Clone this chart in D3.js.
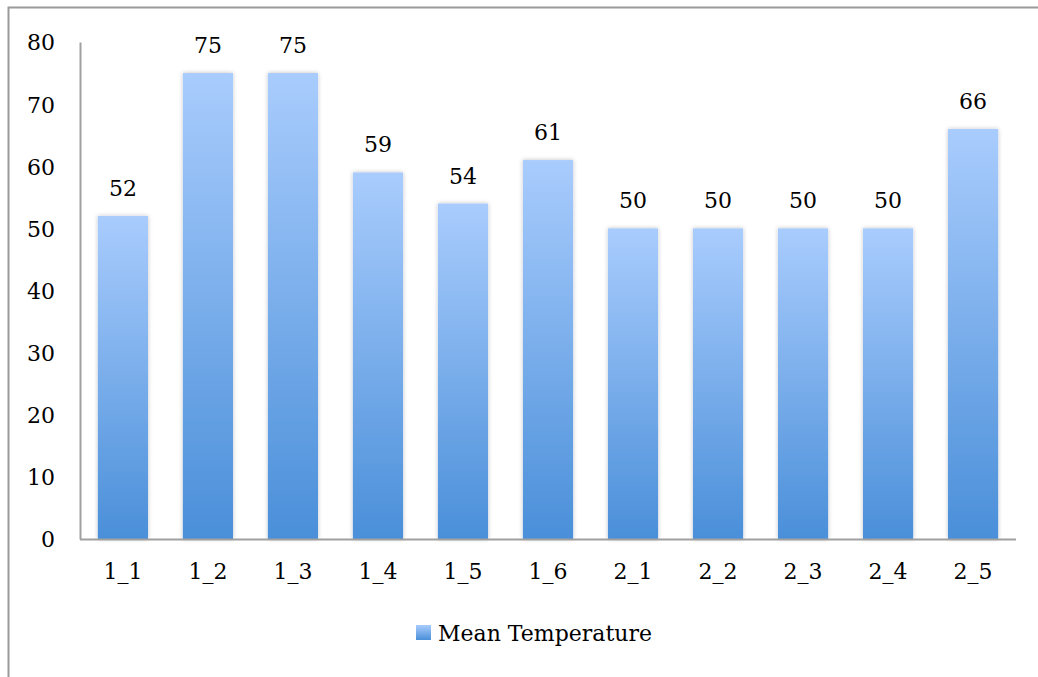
<!DOCTYPE html>
<html>
<head>
<meta charset="utf-8">
<script src="https://cdn.jsdelivr.net/npm/d3@7"></script>
<style>
  html, body { margin: 0; padding: 0; background: #fff; }
  svg { display: block; }
  text { font-family: "DejaVu Serif", "Liberation Serif", serif; fill: #000; }
</style>
</head>
<body>
<svg id="chart" width="1038" height="677"></svg>
<script>
const categories = ["1_1", "1_2", "1_3", "1_4", "1_5", "1_6", "2_1", "2_2", "2_3", "2_4", "2_5"];
const meanTemperature = [52, 75, 75, 59, 54, 61, 50, 50, 50, 50, 66];
const yTicks = [0, 10, 20, 30, 40, 50, 60, 70, 80];
const seriesName = "Mean Temperature";

const fontFamily = "DejaVu Serif, Liberation Serif, serif";
const fontSize = 22;

const svg = d3.select("#chart");
const plot = { left: 80, right: 1016, top: 42, bottom: 539 };

// outer frame (top and left edges visible within the page)
svg.append("path")
  .attr("d", "M8.5,677 L8.5,7.5 L1038,7.5")
  .attr("fill", "none")
  .attr("stroke", "#9a9a9a")
  .attr("stroke-width", 2);

const defs = svg.append("defs");
const grad = defs.append("linearGradient")
  .attr("id", "barFill").attr("x1", 0).attr("y1", 0).attr("x2", 0).attr("y2", 1);
grad.append("stop").attr("offset", "0%").attr("stop-color", "#a9ccfd");
grad.append("stop").attr("offset", "100%").attr("stop-color", "#4a8fd9");

const legGrad = defs.append("linearGradient")
  .attr("id", "legFill").attr("x1", 0).attr("y1", 0).attr("x2", 0).attr("y2", 1);
legGrad.append("stop").attr("offset", "0%").attr("stop-color", "#a9ccfd");
legGrad.append("stop").attr("offset", "100%").attr("stop-color", "#4a8fd9");

const shadow = defs.append("filter").attr("id", "barShadow")
  .attr("x", "-20%").attr("y", "-5%").attr("width", "140%").attr("height", "110%");
shadow.append("feDropShadow")
  .attr("dx", 0).attr("dy", 0).attr("stdDeviation", 2)
  .attr("flood-color", "#000").attr("flood-opacity", 0.25);

const x = d3.scaleBand().domain(categories).range([plot.left, plot.right]).paddingInner(0.41).paddingOuter(0.21);
const y = d3.scaleLinear().domain([0, 80]).range([plot.bottom, plot.top]);

// bars
svg.append("g").selectAll("rect")
  .data(categories)
  .join("rect")
  .attr("x", d => x(d))
  .attr("width", x.bandwidth())
  .attr("y", (d, i) => y(meanTemperature[i]))
  .attr("height", (d, i) => y(0) - y(meanTemperature[i]))
  .attr("fill", "url(#barFill)")
  .attr("filter", "url(#barShadow)");

// value labels
svg.append("g").selectAll("text")
  .data(categories)
  .join("text")
  .attr("x", d => x(d) + x.bandwidth() / 2)
  .attr("y", (d, i) => y(meanTemperature[i]) - 20)
  .attr("text-anchor", "middle")
  .attr("font-size", fontSize)
  .text((d, i) => meanTemperature[i]);

// y axis
const yAxis = svg.append("g")
  .attr("transform", `translate(${plot.left},0)`)
  .call(d3.axisLeft(y).tickValues(yTicks).tickSize(0).tickPadding(25));
yAxis.select(".domain").attr("stroke", "#a0a0a0").attr("stroke-width", 2);
yAxis.selectAll("text").attr("font-size", fontSize).attr("font-family", fontFamily).attr("dy", "0.36em");

// x axis
const xAxis = svg.append("g")
  .attr("transform", `translate(0,${plot.bottom})`)
  .call(d3.axisBottom(x).tickSize(0).tickPadding(24));
xAxis.select(".domain").attr("d", `M${plot.left},0.5H${plot.right}`).attr("stroke", "#a0a0a0").attr("stroke-width", 2);
xAxis.selectAll("text").attr("font-size", fontSize).attr("font-family", fontFamily);

// legend
const legend = svg.append("g").attr("transform", "translate(416,625)");
legend.append("rect").attr("width", 15).attr("height", 15).attr("fill", "url(#legFill)");
legend.append("text")
  .attr("x", 22).attr("y", 16)
  .attr("font-size", fontSize)
  .text(seriesName);
</script>
</body>
</html>
